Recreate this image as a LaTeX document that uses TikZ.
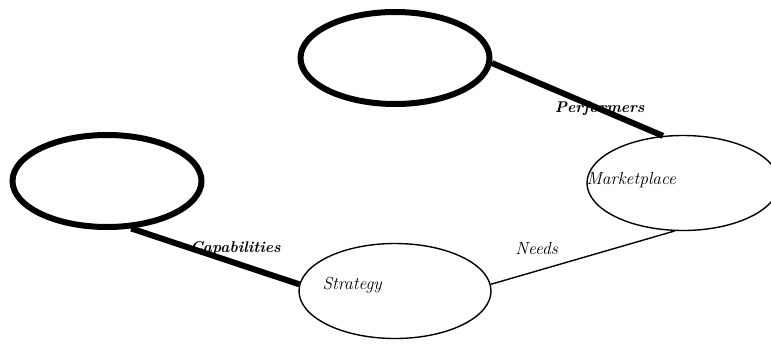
\documentclass[tikz,border=0pt]{standalone}
\usetikzlibrary{shapes.geometric,positioning}

\begin{document}
\begin{tikzpicture}[x=1pt, y=-1pt,
    bubble/.style={draw, ellipse, line width=1.4pt, minimum width=192pt, minimum height=95pt},
    heavy/.style={draw, ellipse, line width=6pt, minimum width=189pt, minimum height=92pt},
    link/.style={line width=1.4pt},
    heavylink/.style={line width=6pt},
    tag/.style={font=\itshape\fontsize{17.5}{20}\selectfont, inner sep=0pt},
    boldtag/.style={font=\bfseries\itshape\fontsize{15.5}{18}\selectfont, inner sep=0pt}
]
\useasboundingbox (0,0) rectangle (771,343);

% Bubbles
\node[heavy] (top) at (395,58) {};
\node[heavy] (left) at (107,181) {};
\node[bubble, label={[tag, anchor=west, yshift=3pt]west:Marketplace}] (mkt) at (683,183) {};
\node[bubble, label={[tag, anchor=west, xshift=24pt, yshift=6pt]west:Strategy}] (strat) at (395,291) {};

% Links
\draw[heavylink] (top.-3) -- (mkt.113) node[pos=0.63, boldtag] {Performers};
\draw[heavylink] (left.-63) -- (strat.176) node[pos=0.62, boldtag, yshift=15pt] {Capabilities};
\draw[link] (strat.4) -- (mkt.-100) node[pos=0.25, tag, yshift=22pt] {Needs};

\end{tikzpicture}
\end{document}
